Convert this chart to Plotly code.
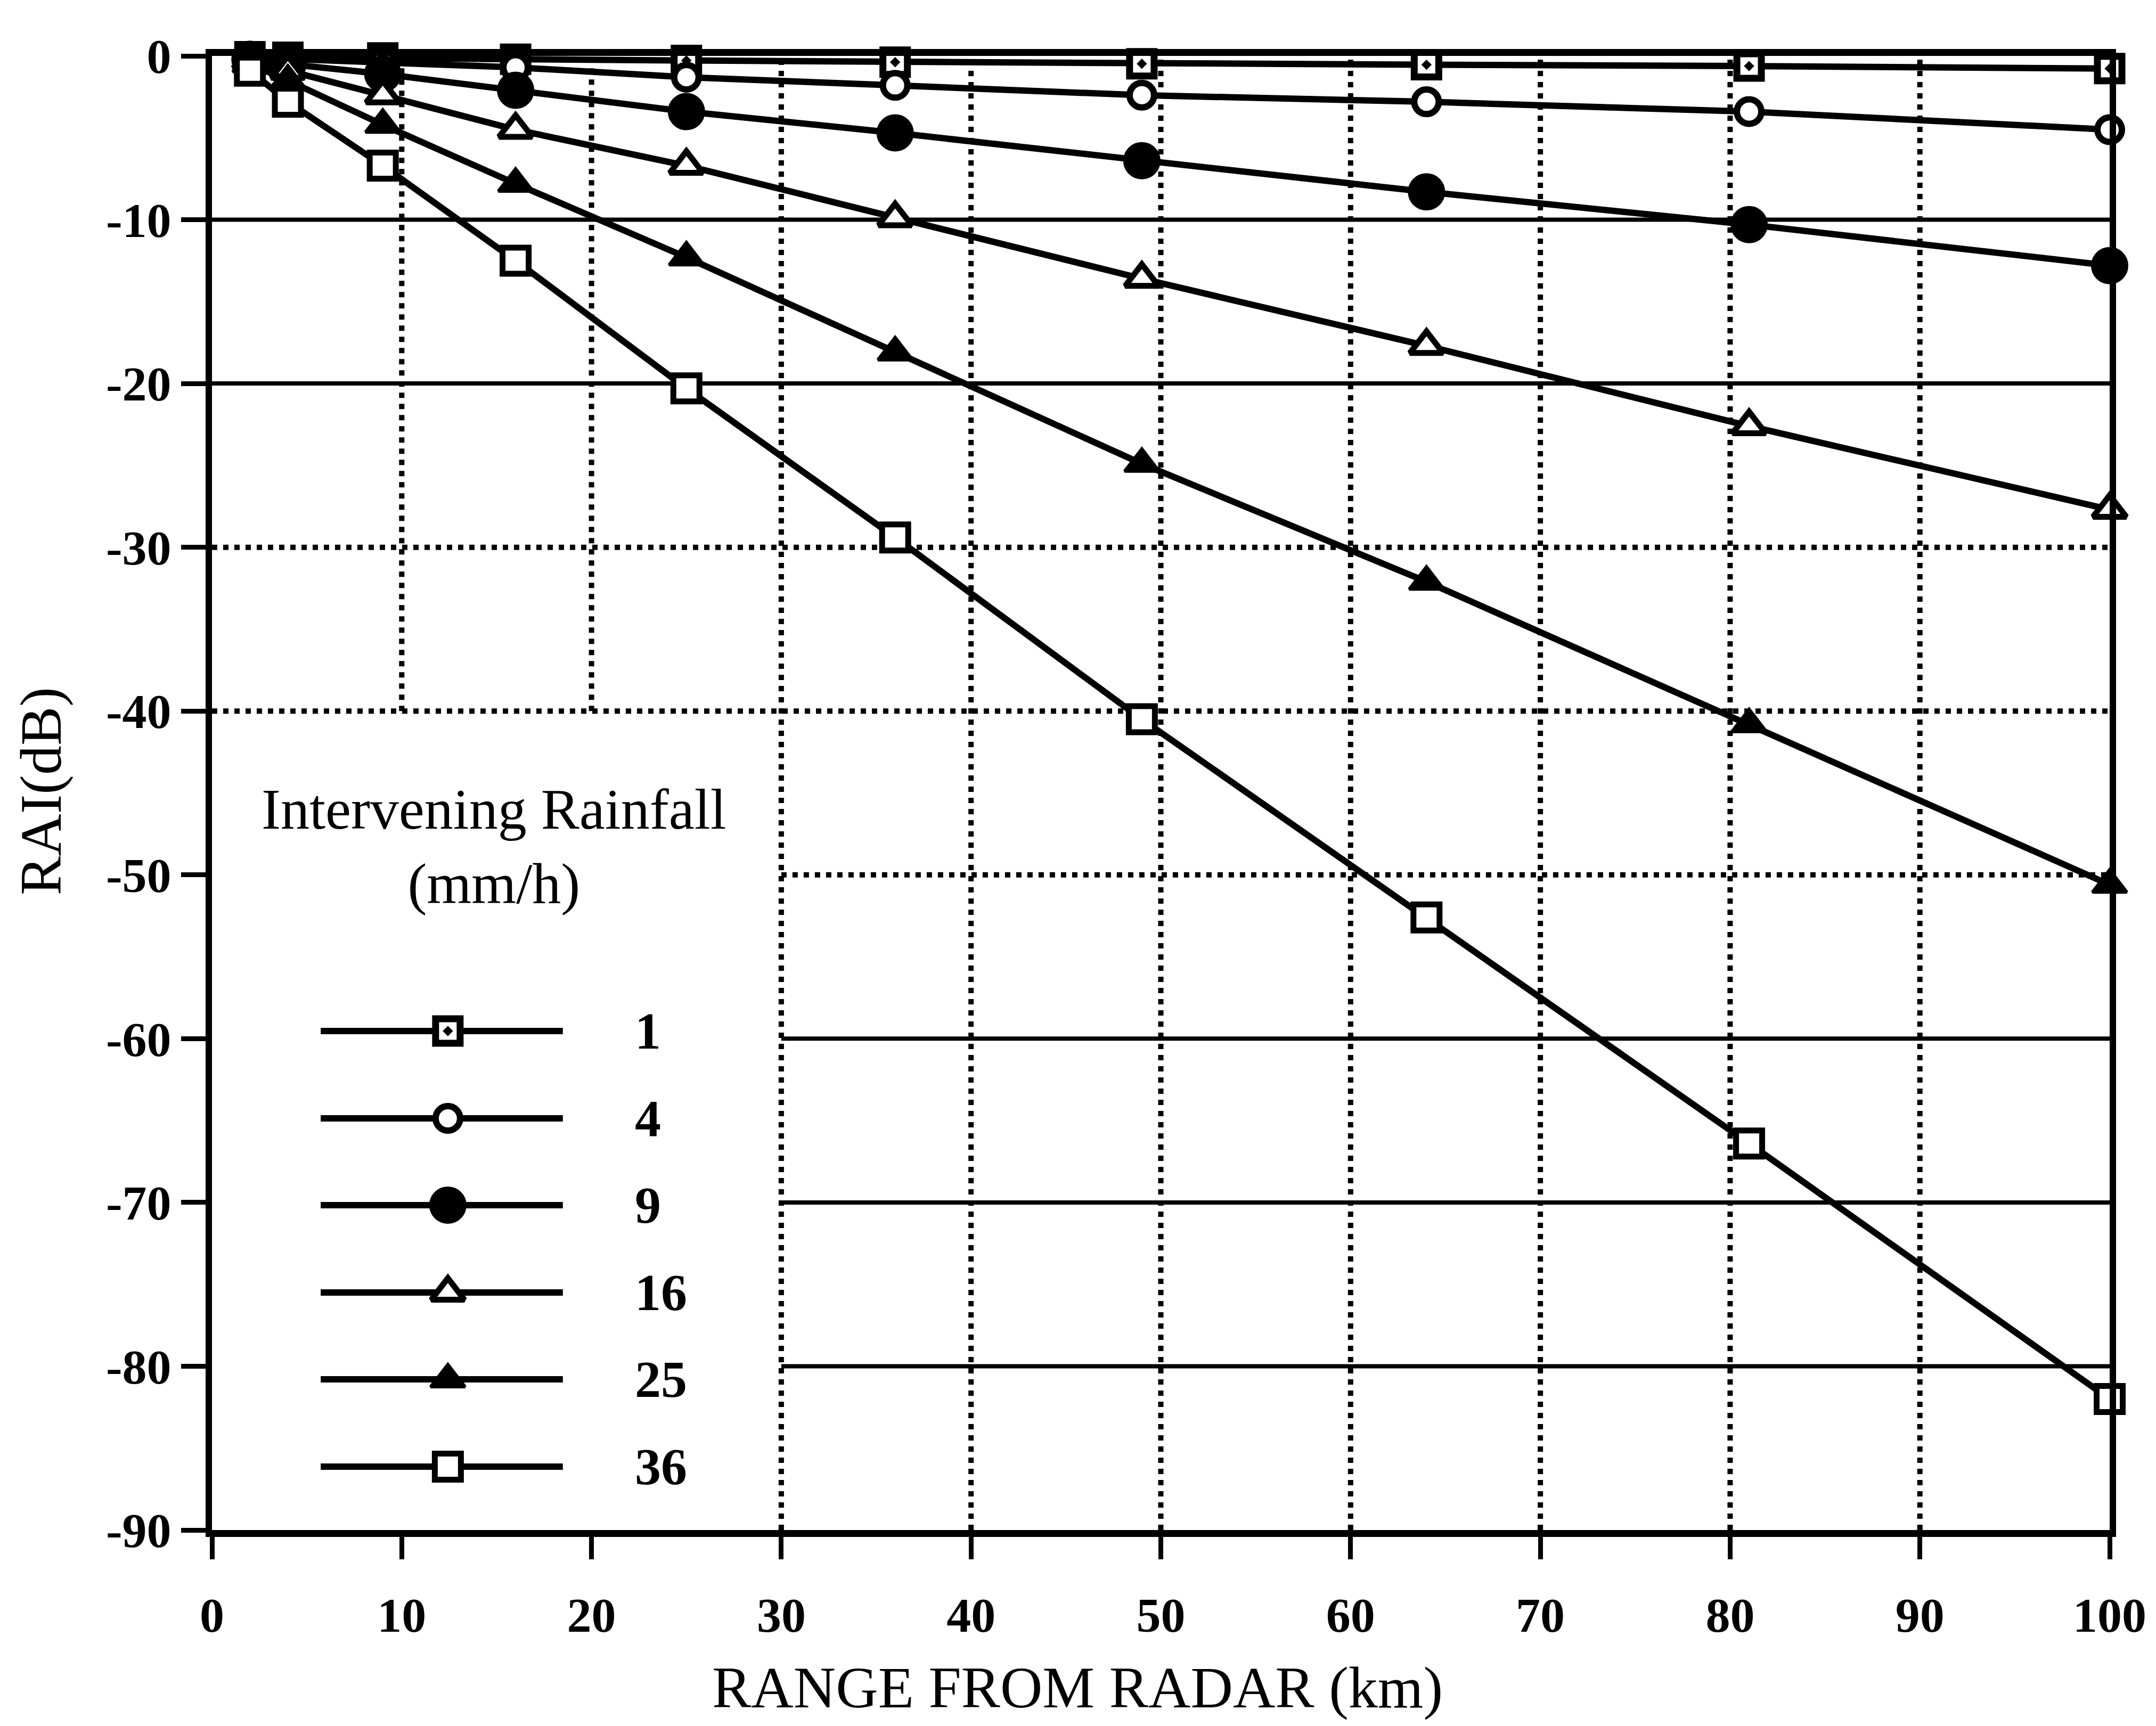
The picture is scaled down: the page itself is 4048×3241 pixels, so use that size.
import plotly.graph_objects as go

# ---- data -------------------------------------------------------------
range_km = [2, 4, 9, 16, 25, 36, 49, 64, 81, 100]
rain_rates = ["1", "4", "9", "16", "25", "36"]

rai_r1 = [-0.05, -0.08, -0.12, -0.2, -0.28, -0.38, -0.48, -0.54, -0.62, -0.77]
rai_r4 = [-0.1, -0.2, -0.4, -0.7, -1.3, -1.8, -2.4, -2.8, -3.4, -4.5]
rai_r9 = [-0.2, -0.5, -1.1, -2.1, -3.4, -4.7, -6.4, -8.3, -10.3, -12.8]
rai_r16 = [-0.3, -0.9, -2.4, -4.5, -6.7, -9.9, -13.6, -17.7, -22.6, -27.7]
rai_r25 = [-0.5, -1.5, -4.2, -7.8, -12.3, -18.1, -24.9, -32.1, -40.8, -50.6]
rai_r36 = [-0.9, -2.8, -6.7, -12.5, -20.3, -29.4, -40.5, -52.6, -66.4, -82.0]

x_ticks = [0, 10, 20, 30, 40, 50, 60, 70, 80, 90, 100]
x_tick_labels = ["0", "10", "20", "30", "40", "50", "60", "70", "80", "90", "100"]
y_ticks = [0, -10, -20, -30, -40, -50, -60, -70, -80, -90]
y_tick_labels = ["0", "-10", "-20", "-30", "-40", "-50", "-60", "-70", "-80", "-90"]

series = [rai_r1, rai_r4, rai_r9, rai_r16, rai_r25, rai_r36]

# ---- styling ----------------------------------------------------------
FONT = "Liberation Serif"
INK = "black"
W, H = 4048, 3241
M = dict(l=398, r=87, t=105, b=368)

marker_styles = [
    dict(symbol="square-dot", size=46, color="white", line=dict(color=INK, width=13)),
    dict(symbol="circle", size=46, color="white", line=dict(color=INK, width=12)),
    dict(symbol="circle", size=64, color=INK, line=dict(color=INK, width=6)),
    dict(symbol="triangle-up", size=54, color="white", line=dict(color=INK, width=11)),
    dict(symbol="triangle-up", size=56, color=INK, line=dict(color=INK, width=6)),
    dict(symbol="square", size=49, color="white", line=dict(color=INK, width=11)),
]
LINE_W = 12
TICK_FONT = dict(family=FONT, size=92, color=INK, weight="bold")

fig = go.Figure()

for vals, mk in zip(series, marker_styles):
    fig.add_trace(go.Scatter(
        x=range_km, y=vals, mode="lines+markers",
        line=dict(color=INK, width=LINE_W),
        marker=mk, cliponaxis=False, showlegend=False,
    ))

# ---- hand-drawn key (paper-fraction axes overlaying the plot) ---------
key_x0, key_x1, key_xm = 0.0573, 0.1849, 0.1243
key_label_x = 0.2223
key_rows = [0.3385, 0.2793, 0.2204, 0.1611, 0.1022, 0.0430]

for row_y, mk in zip(key_rows, marker_styles):
    fig.add_trace(go.Scatter(
        x=[key_x0, key_x1], y=[row_y, row_y], mode="lines",
        line=dict(color=INK, width=LINE_W), xaxis="x2", yaxis="y2",
        showlegend=False, hoverinfo="skip",
    ))
    fig.add_trace(go.Scatter(
        x=[key_xm], y=[row_y], mode="markers", marker=mk,
        xaxis="x2", yaxis="y2", showlegend=False, hoverinfo="skip",
    ))

annotations = []
for row_y, lab in zip(key_rows, rain_rates):
    annotations.append(dict(
        text=lab, xref="paper", yref="paper", x=key_label_x, y=row_y,
        xanchor="left", yanchor="middle", showarrow=False,
        font=dict(family=FONT, size=98, color=INK, weight="bold"),
    ))

annotations.append(dict(
    text="Intervening Rainfall<br>(mm/h)", xref="paper", yref="paper",
    x=0.1485, y=0.4635, xanchor="center", yanchor="middle", showarrow=False,
    font=dict(family=FONT, size=108, color=INK),
))
annotations.append(dict(
    text="RANGE FROM RADAR (km)", xref="paper", yref="paper",
    x=0.456, y=-0.107, xanchor="center", yanchor="middle", showarrow=False,
    font=dict(family=FONT, size=110, color=INK),
))
annotations.append(dict(
    text="RAI(dB)", xref="paper", yref="paper", textangle=-90,
    x=-0.0901, y=0.5014, xanchor="center", yanchor="middle", showarrow=False,
    font=dict(family=FONT, size=110, color=INK),
))

# ---- grid: solid and dotted runs, key area left open ------------------
shapes = []
SOLID = dict(color=INK, width=8)
DOTTED = dict(color=INK, width=10, dash="10px,11px")

h_solid = [(-10, 0, 100), (-20, 0, 100), (-60, 30, 100), (-70, 30, 100), (-80, 30, 100)]
h_dotted = [(-30, 0, 100), (-40, 0, 100), (-50, 30, 100)]
v_dotted = [(10, -40, 0), (20, -40, 0), (30, -90, 0), (40, -90, 0), (50, -90, 0),
            (60, -90, 0), (70, -90, 0), (80, -90, 0), (90, -90, 0)]

for yv, xa, xb in h_solid:
    shapes.append(dict(type="line", xref="x", yref="y", x0=xa, x1=xb, y0=yv, y1=yv,
                       line=SOLID, layer="below"))
for yv, xa, xb in h_dotted:
    shapes.append(dict(type="line", xref="x", yref="y", x0=xa, x1=xb, y0=yv, y1=yv,
                       line=DOTTED, layer="below"))
for xv, ya, yb in v_dotted:
    shapes.append(dict(type="line", xref="x", yref="y", x0=xv, x1=xv, y0=ya, y1=yb,
                       line=DOTTED, layer="below"))

fig.update_layout(
    width=W, height=H, autosize=False, margin=M,
    paper_bgcolor="white", plot_bgcolor="white",
    font=dict(family=FONT, color=INK, size=95),
    showlegend=False,
    xaxis=dict(
        range=[0, 100], tickmode="array", tickvals=x_ticks, ticktext=x_tick_labels,
        showgrid=False, zeroline=False,
        showline=True, linecolor=INK, linewidth=13, mirror=True,
        ticks="outside", ticklen=42, tickwidth=9, tickcolor=INK,
        tickfont=TICK_FONT, ticklabelstandoff=26,
    ),
    yaxis=dict(
        range=[-90, 0], tickmode="array", tickvals=y_ticks, ticktext=y_tick_labels,
        showgrid=False, zeroline=False,
        showline=True, linecolor=INK, linewidth=12, mirror=True,
        ticks="outside", ticklen=46, tickwidth=9, tickcolor=INK,
        tickfont=TICK_FONT,
    ),
    xaxis2=dict(overlaying="x", anchor="y2", range=[0, 1], visible=False),
    yaxis2=dict(overlaying="y", anchor="x2", range=[0, 1], visible=False),
    shapes=shapes,
    annotations=annotations,
)

fig.write_html("out.html")
